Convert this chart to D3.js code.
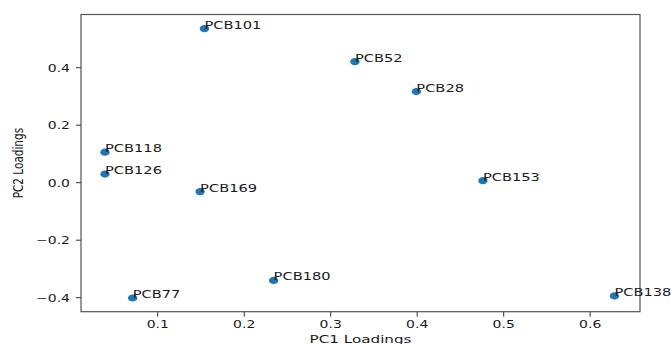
<!DOCTYPE html>
<html>
<head>
<meta charset="utf-8">
<script src="https://cdn.jsdelivr.net/npm/d3@7"></script>
<style>
  body { margin: 0; background: #fff; }
  text { font-family: "DejaVu Sans", sans-serif; fill: #1a1a1a; }
</style>
</head>
<body>
<svg id="canvas" width="671" height="344"></svg>
<script>
const labels = ["PCB101", "PCB52", "PCB28", "PCB118", "PCB126", "PCB169", "PCB153", "PCB180", "PCB77", "PCB138"]
const pc1 = [0.154, 0.328, 0.399, 0.039, 0.039, 0.149, 0.476, 0.234, 0.071, 0.628]
const pc2 = [0.536, 0.421, 0.317, 0.106, 0.030, -0.031, 0.007, -0.340, -0.401, -0.394]
const xTicks = [0.1, 0.2, 0.3, 0.4, 0.5, 0.6]
const yTicks = [-0.4, -0.2, 0.0, 0.2, 0.4]

const stretch = 1.33
let canvas = d3.select("#canvas")

let plotLeft = 81, plotRight = 640, plotTop = 14.5, plotBottom = 311.7

let x = d3.scaleLinear().domain([0.0113, 0.6576]).range([plotLeft, plotRight])
let y = d3.scaleLinear().domain([-0.4487, 0.585]).range([plotBottom, plotTop])

// frame
canvas.append("rect")
      .attr("x", plotLeft).attr("y", plotTop)
      .attr("width", plotRight - plotLeft).attr("height", plotBottom - plotTop)
      .attr("fill", "none").attr("stroke", "#555").attr("stroke-width", 1.2)

// ticks drawn by hand so labels can get the horizontal stretch
let xAxis = canvas.append("g")
xAxis.selectAll("line")
     .data(xTicks)
     .enter()
     .append("line")
     .attr("x1", d => x(d)).attr("x2", d => x(d))
     .attr("y1", plotBottom).attr("y2", plotBottom + 5)
     .attr("stroke", "#333")
xAxis.selectAll("text")
     .data(xTicks)
     .enter()
     .append("text")
     .attr("transform", d => `translate(${x(d)},${plotBottom + 16}) scale(${stretch},1)`)
     .attr("text-anchor", "middle")
     .style("font-size", "10.5px")
     .text(d => d3.format(".1f")(d))

let yAxis = canvas.append("g")
yAxis.selectAll("line")
     .data(yTicks)
     .enter()
     .append("line")
     .attr("x1", plotLeft - 5).attr("x2", plotLeft)
     .attr("y1", d => y(d)).attr("y2", d => y(d))
     .attr("stroke", "#333")
yAxis.selectAll("text")
     .data(yTicks)
     .enter()
     .append("text")
     .attr("transform", d => `translate(${plotLeft - 11},${y(d) + 4}) scale(${stretch},1)`)
     .attr("text-anchor", "end")
     .style("font-size", "10.5px")
     .text(d => d3.format(".1f")(d).replace("-", "\u2212"))

// axis titles
canvas.append("text")
      .attr("transform", `translate(${(plotLeft + plotRight) / 2},${plotBottom + 31}) scale(1.38,1)`)
      .attr("text-anchor", "middle")
      .style("font-size", "11px")
      .text("PC1 Loadings")

canvas.append("text")
      .attr("transform", `translate(23,${(plotTop + plotBottom) / 2}) rotate(-90) scale(1,1.3)`)
      .attr("text-anchor", "middle")
      .style("font-size", "10.5px")
      .text("PC2 Loadings")

// points and labels
let points = labels.map((d, i) => ({ name: d, pc1: pc1[i], pc2: pc2[i] }))

canvas.selectAll("ellipse")
      .data(points)
      .enter()
      .append("ellipse")
      .attr("cx", d => x(d.pc1))
      .attr("cy", d => y(d.pc2))
      .attr("rx", 4.7)
      .attr("ry", 3.6)
      .attr("fill", "#1f77b4")

canvas.selectAll("text.label")
      .data(points)
      .enter()
      .append("text")
      .attr("class", "label")
      .attr("transform", d => `translate(${x(d.pc1)},${y(d.pc2)}) scale(${stretch},1)`)
      .style("font-size", "11px")
      .text(d => d.name)
</script>
</body>
</html>
